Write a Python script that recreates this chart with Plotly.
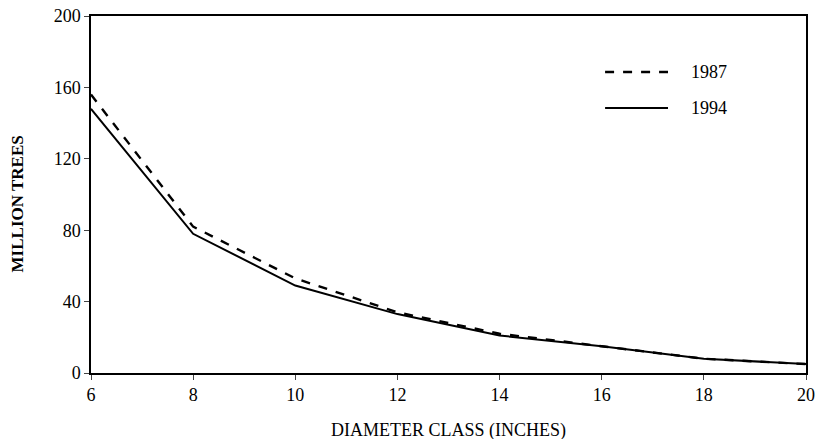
import plotly.graph_objects as go

diameter = [6, 8, 10, 12, 14, 16, 18, 20]
trees_1987 = [156, 82, 53, 34, 22, 15, 8, 5]
trees_1994 = [148, 78, 49, 33, 21, 15, 8, 5]
x_ticks = [6, 8, 10, 12, 14, 16, 18, 20]
y_ticks = [0, 40, 80, 120, 160, 200]
series_names = ["1987", "1994"]
x_title = "DIAMETER CLASS (INCHES)"
y_title = "MILLION TREES"

font_family = "Liberation Serif, Times New Roman, serif"

fig = go.Figure()
fig.add_trace(go.Scatter(x=diameter, y=trees_1987, mode="lines", name=series_names[0],
                         line=dict(color="black", width=2.4, dash="dash")))
fig.add_trace(go.Scatter(x=diameter, y=trees_1994, mode="lines", name=series_names[1],
                         line=dict(color="black", width=2)))

# manual legend (paper coordinates)
legend_y = [0.843, 0.742]
legend_dash = ["dash", "solid"]
for name, ly, dsh in zip(series_names, legend_y, legend_dash):
    fig.add_shape(type="line", xref="paper", yref="paper", x0=0.719, x1=0.807, y0=ly, y1=ly,
                  line=dict(color="black", width=2.4 if dsh == "dash" else 2, dash=dsh))
    fig.add_annotation(xref="paper", yref="paper", x=0.836, y=ly, text=name, showarrow=False,
                       xanchor="left", yanchor="middle", font=dict(size=18))

# axis titles
fig.add_annotation(xref="paper", yref="paper", x=0.5, y=-0.161, text=x_title, showarrow=False,
                   xanchor="center", yanchor="middle", font=dict(size=18))
fig.add_annotation(xref="paper", yref="paper", x=-0.1035, y=0.475, text="<b>" + y_title + "</b>",
                   showarrow=False, textangle=-90, xanchor="center", yanchor="middle",
                   font=dict(size=17))

tick_font = dict(family=font_family, color="black", size=18)

fig.update_layout(
    width=817, height=439,
    margin=dict(l=91, r=11, t=16, b=66),
    paper_bgcolor="white", plot_bgcolor="white",
    font=dict(family=font_family, color="black", size=18),
    showlegend=False,
    xaxis=dict(range=[6, 20], tickvals=x_ticks, ticks="outside", ticklen=5, tickfont=tick_font,
               showline=True, linecolor="black", linewidth=1.5, mirror=True,
               showgrid=False, zeroline=False, automargin=False),
    yaxis=dict(range=[0, 200], tickvals=y_ticks, ticks="outside", ticklen=5, tickfont=tick_font,
               showline=True, linecolor="black", linewidth=1.5, mirror=True,
               showgrid=False, zeroline=False, automargin=False),
)

fig.write_html("out.html", config={"displayModeBar": False},
               post_script="document.body.style.margin='0';")
